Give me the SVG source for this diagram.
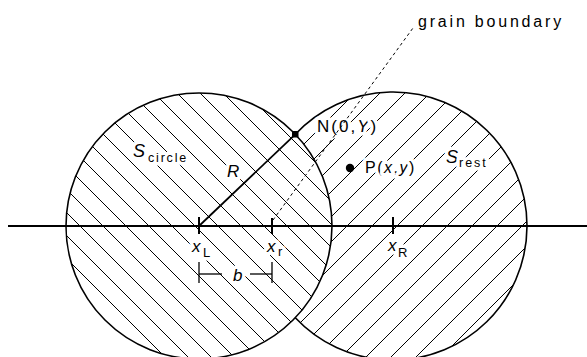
<svg xmlns="http://www.w3.org/2000/svg" width="587" height="357" viewBox="0 0 587 357">
<style>
.hatch{stroke:#000;stroke-width:1;fill:none}
.outline{stroke:#000;stroke-width:1.6;fill:none}
.t{font-family:"Liberation Sans",Arial,sans-serif;fill:#000;stroke:#fff;stroke-width:7;stroke-linejoin:round;paint-order:stroke}
.it{font-style:italic}
</style>
<defs>
<clipPath id="clipL"><circle cx="199" cy="226" r="133"/></clipPath>
<clipPath id="clipR"><path d="M295.3,134.3 A134,134 0 1 1 295.3,317.7 A133,133 0 0 0 295.3,134.3 Z"/></clipPath>
</defs>
<rect width="587" height="357" fill="#fff"/>
<g id="region-rest">
<g clip-path="url(#clipR)" class="hatch">
<path d="M368,80L78,370M393,80L103,370M418,80L128,370M443,80L153,370M468,80L178,370M493,80L203,370M518,80L228,370M543,80L253,370M568,80L278,370M593,80L303,370M618,80L328,370M643,80L353,370M668,80L378,370M693,80L403,370M718,80L428,370"/>
</g>
<path class="outline" d="M295.3,134.3 A134,134 0 1 1 295.3,317.7"/>
</g>
<g id="region-circle">
<g clip-path="url(#clipL)" class="hatch">
<path d="M-135,80L155,370M-112,80L178,370M-89,80L201,370M-66,80L224,370M-43,80L247,370M-20,80L270,370M3,80L293,370M26,80L316,370M49,80L339,370M72,80L362,370M95,80L385,370M118,80L408,370M141,80L431,370M164,80L454,370M187,80L477,370M210,80L500,370M233,80L523,370"/>
</g>
<circle class="outline" cx="199" cy="226" r="133"/>
</g>
<g id="labels">
<text class="t it" x="133" y="157" font-size="18">S</text>
<text class="t" x="148" y="162" font-size="12.5" letter-spacing="1.8">circle</text>
<text class="t it" x="227" y="177" font-size="17">R</text>
<text class="t" x="317" y="132" font-size="17" letter-spacing="2">N(0,<tspan class="it">Y</tspan>)</text>
<text class="t" x="365" y="173" font-size="16" letter-spacing="1.5">P(<tspan class="it">x</tspan>,<tspan class="it">y</tspan>)</text>
<text class="t it" x="446" y="163" font-size="18">S</text>
<text class="t" x="459" y="167" font-size="12.5" letter-spacing="2">rest</text>
<text class="t it" x="192" y="252" font-size="17">x</text>
<text class="t" x="203" y="257" font-size="13">L</text>
<text class="t it" x="267" y="252" font-size="17">x</text>
<text class="t" x="278" y="256" font-size="13">r</text>
<text class="t it" x="388" y="251" font-size="17">x</text>
<text class="t" x="398" y="257" font-size="13">R</text>
<text class="t it" x="233" y="281" font-size="17">b</text>
<text class="t" x="418" y="27" font-size="16" letter-spacing="2.8">grain boundary</text>
</g>
<g id="connectors" stroke="#000" fill="none">
<line x1="8" y1="226" x2="587" y2="226" stroke-width="2.2"/>
<line x1="199" y1="217" x2="199" y2="234" stroke-width="2"/>
<line x1="272" y1="218" x2="272" y2="234" stroke-width="2"/>
<line x1="393" y1="217" x2="393" y2="234" stroke-width="2"/>
<line x1="199" y1="226" x2="295.3" y2="134.3" stroke-width="1.8"/>
<line x1="273" y1="220" x2="413" y2="28" stroke-width="1" stroke-dasharray="3 3"/>
<line x1="199" y1="262" x2="199" y2="283" stroke-width="1.3"/>
<line x1="272" y1="262" x2="272" y2="283" stroke-width="1.3"/>
<line x1="199" y1="274" x2="222" y2="274" stroke-width="1.3"/>
<line x1="250" y1="274" x2="272" y2="274" stroke-width="1.3"/>
</g>
<g id="points">
<rect x="292" y="131" width="6.5" height="6.5" fill="#000"/>
<circle cx="350" cy="168" r="4.2" fill="#000"/>
</g>
</svg>
